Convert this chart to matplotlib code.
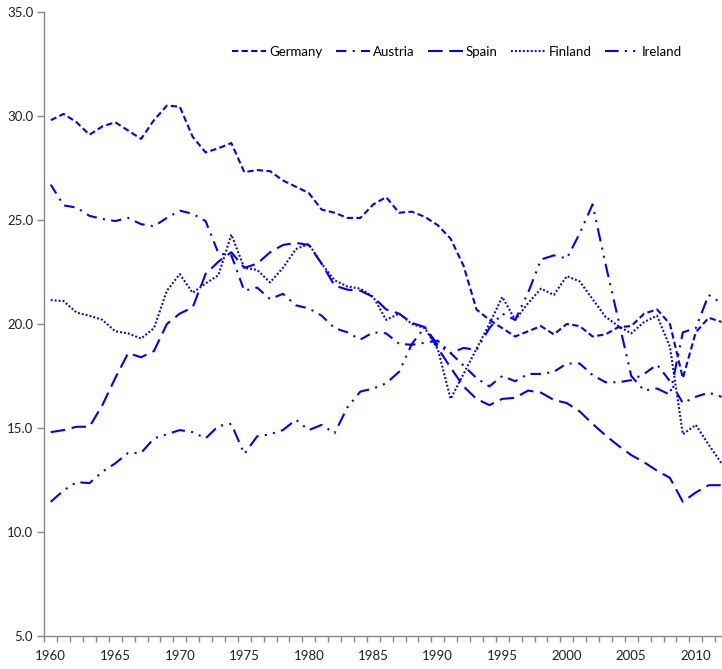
import matplotlib
matplotlib.use("Agg")
import matplotlib.pyplot as plt
import numpy as np

plt.rcParams['font.family'] = ['Lato', 'DejaVu Sans']

years = list(range(1960, 2013))

germany = [29.8, 30.1, 29.7, 29.1, 29.5, 29.7, 29.3, 28.9, 29.8, 30.5,
           30.45, 29.0, 28.25, 28.45, 28.7, 27.3, 27.4, 27.35, 26.9, 26.6,
           26.3, 25.5, 25.35, 25.1, 25.1, 25.75, 26.1, 25.35, 25.4, 25.15,
           24.75, 24.1, 22.8, 20.7, 20.2, 19.8, 19.4, 19.65, 19.9, 19.5,
           20.0, 19.9, 19.4, 19.5, 19.85, 19.9, 20.5, 20.7, 20.0, 17.4,
           19.6, 20.3, 20.1]

austria = [26.7, 25.7, 25.6, 25.2, 25.05, 24.95, 25.1, 24.8, 24.7, 25.1,
           25.45, 25.3, 24.95, 23.4, 23.3, 21.6, 21.75, 21.2, 21.45, 20.9,
           20.75, 20.4, 19.8, 19.6, 19.25, 19.6, 19.55, 19.05, 19.0, 19.1,
           19.2, 18.6, 18.0, 17.4, 17.0, 17.5, 17.25, 17.6, 17.6, 17.7,
           18.1, 18.1, 17.55, 17.2, 17.2, 17.3, 17.6, 18.05, 17.25, 16.2,
           16.5, 16.7, 16.5]

spain = [14.8, 14.9, 15.06, 15.06, 16.1, 17.4, 18.6, 18.4, 18.7, 20.0,
         20.5, 20.8, 22.4, 23.0, 23.45, 22.7, 22.9, 23.45, 23.8, 23.9,
         23.8, 22.9, 21.85, 21.65, 21.6, 21.3, 20.7, 20.5, 20.05, 19.85,
         18.85, 17.9, 17.0, 16.4, 16.1, 16.4, 16.45, 16.8, 16.7, 16.35,
         16.2, 15.8, 15.2, 14.65, 14.15, 13.7, 13.35, 12.95, 12.6, 11.45,
         11.9, 12.25, 12.25]

finland = [21.15, 21.1, 20.55, 20.4, 20.2, 19.65, 19.55, 19.3, 19.8, 21.6,
           22.4, 21.5, 21.95, 22.35, 24.3, 22.7, 22.6, 22.0, 22.7, 23.6,
           23.85, 22.9, 22.1, 21.8, 21.7, 21.3, 20.2, 20.5, 20.0, 19.8,
           18.8, 16.4, 17.6, 18.8, 20.0, 21.3, 20.2, 21.0, 21.7, 21.4,
           22.3, 22.05, 21.2, 20.35, 19.9, 19.55, 20.1, 20.4, 18.9, 14.7,
           15.15, 14.2, 13.3]

ireland = [11.45, 12.0, 12.4, 12.35, 12.9, 13.3, 13.8, 13.8, 14.5, 14.7,
           14.9, 14.8, 14.5, 15.1, 15.2, 13.75, 14.6, 14.7, 14.9, 15.4,
           14.9, 15.15, 14.75, 16.0, 16.75, 16.9, 17.15, 17.7, 19.05, 19.85,
           19.0, 18.6, 18.85, 18.75, 19.8, 20.5, 20.2, 21.5, 23.1, 23.3,
           23.15, 24.35, 25.75, 22.9, 20.2, 17.5, 16.8, 16.9, 16.6, 19.6,
           19.8, 21.4, 21.0]

series = [("Germany", germany, (3.0, 1.6)),
          ("Austria", austria, (5.0, 3.0, 1.0, 3.0)),
          ("Spain", spain, (7.0, 3.2)),
          ("Finland", finland, (0.9, 1.0)),
          ("Ireland", ireland, (6.5, 3.0, 1.0, 3.0, 1.0, 3.0))]

W, H = 722, 669
fig = plt.figure(figsize=(W / 100, H / 100), dpi=100)
left_px, bottom_px, top_px = 44.3, 636, 12
right_px = 44.3 + 53 * 12.9
ax = fig.add_axes([left_px / W, (H - bottom_px) / H,
                   (right_px - left_px) / W, (bottom_px - top_px) / H])

for name, vals, dash in series:
    ax.plot(years, vals, color='#0000FF', lw=1.5, dashes=dash, label=name,
            solid_capstyle='butt', dash_capstyle='butt')

ax.set_xlim(1959.5, 2012.5)
ax.set_ylim(5, 35)
ax.set_yticks(np.arange(5, 35.1, 5))
ax.set_yticklabels([f"{v:.1f}" for v in np.arange(5, 35.1, 5)])
ax.set_xticks(list(range(1960, 2013, 5)))
ax.set_xticks(np.arange(1959.5, 2012.6, 1.0), minor=True)

for s in ['top', 'right']:
    ax.spines[s].set_visible(False)
for s in ['left', 'bottom']:
    ax.spines[s].set_color('#888888')
    ax.spines[s].set_linewidth(1.0)

ax.tick_params(axis='x', which='major', length=0, pad=10, labelsize=9.5,
               labelcolor='#222222')
ax.tick_params(axis='x', which='minor', length=4, color='#888888', width=1.0)
ax.tick_params(axis='y', which='major', length=5, color='#888888', width=1.0,
               labelsize=9.5, labelcolor='#222222', pad=3)

leg = fig.legend(loc='center', bbox_to_anchor=(457 / W, 1 - 52 / H),
                 ncol=5, frameon=False, fontsize=9.5, handlelength=2.6,
                 handletextpad=0.25, columnspacing=1.0)

fig.savefig("out.png", dpi=100)
